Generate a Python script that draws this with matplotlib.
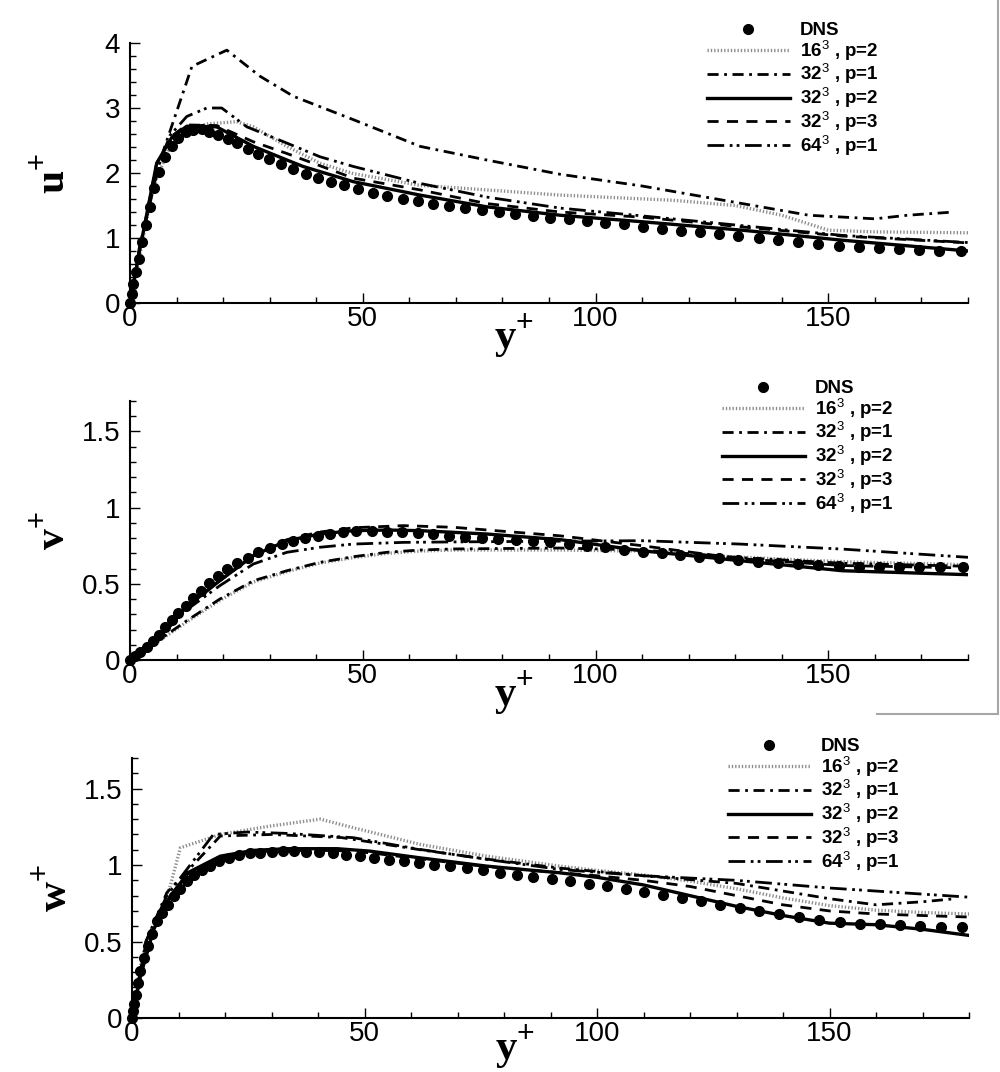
import matplotlib
matplotlib.use("Agg")
import matplotlib.pyplot as plt
from matplotlib.lines import Line2D
from matplotlib.ticker import MultipleLocator, FuncFormatter

plt.rcParams["font.family"] = ["Liberation Sans", "DejaVu Sans"]
plt.rcParams["mathtext.fontset"] = "custom"
plt.rcParams["mathtext.rm"] = "Liberation Sans"
plt.rcParams["mathtext.bf"] = "Liberation Serif:bold"

LABELS = ["DNS", r"16$^{3}$ , p=2", r"32$^{3}$ , p=1", r"32$^{3}$ , p=2",
          r"32$^{3}$ , p=3", r"64$^{3}$ , p=1"]

# ---- u+ panel ----
U_DNS_X = [0, 0.36, 0.72, 1.29, 1.93, 2.51, 3.44, 4.30, 5.23, 6.30, 7.52, 8.95,
           10.39, 12.03, 13.61, 15.40, 17.05, 18.98, 20.99, 23.07, 25.43, 27.58,
           29.94, 32.45, 34.96, 37.75, 40.40, 43.19, 46.06, 49.07, 52.22, 55.30,
           58.6, 61.8, 65.0, 68.6, 72.0, 75.6, 79.2, 82.8, 86.5, 90.3, 94.2,
           98.2, 102.0, 106.1, 110.2, 114.2, 118.3, 122.4, 126.6, 130.7, 135.0,
           139.2, 143.4, 147.7, 152.2, 156.5, 160.8, 165.2, 169.5, 173.8, 178.5]
U_DNS_Y = [0, 0.144, 0.298, 0.478, 0.684, 0.94, 1.197, 1.48, 1.763, 2.02, 2.25,
           2.416, 2.534, 2.627, 2.663, 2.673, 2.637, 2.585, 2.524, 2.457, 2.37,
           2.30, 2.22, 2.14, 2.06, 1.99, 1.93, 1.866, 1.81, 1.753, 1.70, 1.65,
           1.60, 1.57, 1.53, 1.50, 1.46, 1.43, 1.40, 1.37, 1.34, 1.31, 1.29,
           1.264, 1.234, 1.213, 1.172, 1.146, 1.110, 1.085, 1.064, 1.033, 1.002,
           0.966, 0.946, 0.915, 0.884, 0.864, 0.843, 0.828, 0.817, 0.807, 0.802]
U_16P2_X = [0, 2.15, 5.0, 8.6, 12.2, 16.5, 22.9, 26.5, 33.7, 40.8, 48.0, 62.3,
            76.6, 92.4, 116.7, 130, 140, 150, 159.6, 180]
U_16P2_Y = [0, 0.76, 1.79, 2.41, 2.66, 2.755, 2.79, 2.71, 2.41, 2.15, 1.99, 1.81,
            1.74, 1.66, 1.58, 1.50, 1.35, 1.12, 1.095, 1.08]
U_32P1_X = [0, 2.0, 6.5, 13.3, 20.8, 27.9, 35.1, 48.0, 62.3, 76.6, 92.4, 110,
            131.5, 145.8, 160, 167, 177]
U_32P1_Y = [0, 0.85, 2.2, 3.64, 3.89, 3.49, 3.18, 2.82, 2.41, 2.20, 1.98, 1.80,
            1.53, 1.35, 1.295, 1.35, 1.40]
U_32P2_X = [0, 2.0, 5.73, 9.0, 12.2, 18.6, 26.5, 33.7, 37.2, 48.0, 62.3, 76.6,
            92.4, 110, 131.5, 153, 180]
U_32P2_Y = [0, 0.78, 2.15, 2.55, 2.72, 2.71, 2.41, 2.20, 2.10, 1.866, 1.66, 1.48,
            1.35, 1.25, 1.12, 0.966, 0.80]
U_32P3_X = [0, 2.0, 5.73, 9.0, 12.2, 18.6, 26.5, 33.7, 48.0, 62.3, 76.6, 92.4,
            110, 131.5, 153, 180]
U_32P3_Y = [0, 0.78, 2.15, 2.57, 2.74, 2.73, 2.48, 2.30, 1.92, 1.74, 1.53, 1.40,
            1.32, 1.17, 1.03, 0.925]
U_64P1_X = [0, 2.0, 6.0, 8.6, 12.2, 16.5, 19.7, 25.1, 33.7, 40.8, 48.0, 62.3,
            76.6, 92.4, 110, 131.5, 153, 180]
U_64P1_Y = [0, 0.8, 2.1, 2.58, 2.87, 3.0, 3.0, 2.71, 2.46, 2.25, 2.10, 1.84,
            1.63, 1.46, 1.34, 1.19, 1.04, 0.93]

# ---- v+ panel ----
V_DNS_X = [0, 1.07, 2.15, 3.58, 5.01, 6.30, 7.52, 8.95, 10.39, 12.03, 13.61,
           15.19, 17.05, 18.98, 20.92, 23.07, 25.29, 27.58, 30.09, 32.59, 34.96,
           37.61, 40.33, 42.98, 45.70, 48.50, 51.93, 55.16, 58.38, 61.82, 65.19,
           68.55, 71.99, 75.57, 79.15, 82.81, 86.53, 90.26, 94.2, 98.2, 102.1,
           106.2, 110.1, 114.3, 118.2, 122.3, 126.5, 130.7, 134.9, 139.1, 143.4,
           147.7, 152.2, 156.5, 160.8, 165.2, 169.5, 173.9, 178.9]
V_DNS_Y = [0, 0.028, 0.050, 0.083, 0.127, 0.166, 0.214, 0.262, 0.306, 0.357,
           0.407, 0.455, 0.505, 0.549, 0.597, 0.639, 0.669, 0.711, 0.735, 0.762,
           0.783, 0.801, 0.816, 0.827, 0.838, 0.845, 0.845, 0.842, 0.838, 0.834,
           0.827, 0.816, 0.810, 0.801, 0.794, 0.788, 0.779, 0.772, 0.761, 0.750,
           0.739, 0.724, 0.711, 0.700, 0.689, 0.678, 0.667, 0.656, 0.645, 0.637,
           0.630, 0.623, 0.617, 0.613, 0.613, 0.613, 0.610, 0.610, 0.608]
V_16P2_X = [0, 5.0, 12.2, 19.3, 26.5, 33.7, 40.8, 48.0, 55.2, 62.3, 69.5, 92.4,
            110, 131, 153, 180]
V_16P2_Y = [0, 0.100, 0.250, 0.392, 0.512, 0.580, 0.636, 0.672, 0.700, 0.715,
            0.722, 0.722, 0.715, 0.675, 0.645, 0.625]
V_32P1_X = [0, 5.0, 12.2, 19.3, 26.5, 33.7, 40.8, 48.0, 55.2, 62.3, 69.5, 92.4,
            110, 131, 153, 180]
V_32P1_Y = [0, 0.105, 0.258, 0.400, 0.520, 0.586, 0.641, 0.678, 0.707, 0.722,
            0.729, 0.735, 0.722, 0.672, 0.635, 0.615]
V_32P2_X = [0, 5.0, 12.2, 19.3, 26.5, 33.7, 40.8, 48.0, 55.2, 62.3, 69.5, 76.6,
            92.4, 110, 131, 153, 180]
V_32P2_Y = [0, 0.116, 0.350, 0.521, 0.685, 0.783, 0.827, 0.849, 0.853, 0.849,
            0.838, 0.827, 0.790, 0.717, 0.652, 0.586, 0.560]
V_32P3_X = [0, 5.0, 12.2, 19.3, 26.5, 33.7, 40.8, 48.0, 58.7, 69.5, 92.4, 110,
            131, 153, 180]
V_32P3_Y = [0, 0.116, 0.350, 0.521, 0.685, 0.790, 0.840, 0.868, 0.882, 0.871,
            0.815, 0.750, 0.665, 0.620, 0.604]
V_64P1_X = [0, 5.0, 12.2, 19.3, 26.5, 33.7, 40.8, 48.0, 58.7, 69.5, 92.4, 110,
            131, 153, 180]
V_64P1_Y = [0, 0.110, 0.330, 0.488, 0.630, 0.707, 0.740, 0.761, 0.772, 0.775,
            0.780, 0.783, 0.761, 0.728, 0.674]

# ---- w+ panel ----
W_DNS_X = [0, 0.21, 0.49, 0.78, 1.21, 1.78, 2.50, 3.36, 4.29, 5.37, 6.44, 7.73,
           8.95, 10.38, 11.82, 13.39, 15.04, 16.83, 18.76, 20.77, 22.92, 25.29,
           27.58, 30.09, 32.38, 34.74, 37.40, 40.26, 43.13, 45.99, 48.93, 52.08,
           55.24, 58.39, 61.76, 64.98, 68.42, 72.00, 75.59, 79.17, 82.75, 86.34,
           90.27, 94.2, 98.2, 102.1, 106.2, 110.2, 114.3, 118.3, 122.4, 126.5,
           130.7, 134.9, 139.1, 143.4, 147.7, 152.2, 156.5, 160.8, 165.2, 169.5,
           173.9, 178.5]
W_DNS_Y = [0, 0.043, 0.091, 0.153, 0.229, 0.305, 0.393, 0.473, 0.546, 0.633,
           0.687, 0.742, 0.796, 0.844, 0.895, 0.932, 0.967, 0.997, 1.026, 1.047,
           1.063, 1.076, 1.080, 1.087, 1.089, 1.089, 1.087, 1.083, 1.078, 1.069,
           1.058, 1.047, 1.036, 1.026, 1.015, 1.002, 0.991, 0.978, 0.967, 0.949,
           0.936, 0.921, 0.906, 0.893, 0.878, 0.862, 0.843, 0.823, 0.803, 0.782,
           0.762, 0.742, 0.722, 0.702, 0.682, 0.662, 0.642, 0.627, 0.617, 0.612,
           0.607, 0.602, 0.597, 0.592]
W_16P2_X = [0, 1.78, 4.65, 8.2, 10.4, 19.0, 29.7, 40.5, 47.6, 62.0, 76.3, 92.1,
            100, 110, 120, 130, 140, 150, 160, 170, 180]
W_16P2_Y = [0, 0.338, 0.578, 0.86, 1.113, 1.20, 1.255, 1.30, 1.244, 1.135, 1.058,
            0.993, 0.965, 0.935, 0.895, 0.845, 0.785, 0.735, 0.705, 0.69, 0.68]
W_32P1_X = [0, 3.0, 7.5, 12.5, 19.0, 30, 45, 62, 76, 92, 110, 130, 150, 160, 170,
            177]
W_32P1_Y = [0, 0.5, 0.82, 0.98, 1.19, 1.20, 1.18, 1.10, 1.04, 0.98, 0.93, 0.88,
            0.78, 0.74, 0.76, 0.78]
W_32P2_X = [0, 1.78, 4.65, 8.23, 12.2, 18.98, 26.1, 33.3, 44.1, 51.2, 62.0, 76.3,
            92.1, 100, 110, 120, 130, 140, 150, 160, 170, 180]
W_32P2_Y = [0, 0.27, 0.578, 0.797, 0.953, 1.058, 1.096, 1.107, 1.107, 1.091,
            1.047, 0.993, 0.949, 0.92, 0.87, 0.80, 0.73, 0.67, 0.62, 0.61, 0.58,
            0.54]
W_32P3_X = [0, 1.78, 4.65, 8.23, 12.2, 18.98, 26.1, 33.3, 44.1, 51.2, 62.0, 76.3,
            92.1, 100, 110, 120, 130, 140, 150, 160, 170, 180]
W_32P3_Y = [0, 0.27, 0.578, 0.797, 0.950, 1.050, 1.085, 1.095, 1.095, 1.080,
            1.040, 0.99, 0.95, 0.93, 0.90, 0.86, 0.80, 0.74, 0.70, 0.68, 0.67,
            0.66]
W_64P1_X = [0, 3.0, 7.5, 12.0, 17.5, 24.7, 33.3, 47.6, 62.0, 76.3, 92.1, 110,
            130, 150, 160, 170, 180]
W_64P1_Y = [0, 0.5, 0.80, 0.98, 1.20, 1.216, 1.207, 1.179, 1.102, 1.037, 0.971,
            0.93, 0.90, 0.85, 0.83, 0.81, 0.79]

PANELS = [
    dict(label=r"$\mathbf{u}^{+}$", ymax=4, major=1, minor=0.2,
         dns=(U_DNS_X, U_DNS_Y),
         curves=[(U_16P2_X, U_16P2_Y), (U_32P1_X, U_32P1_Y), (U_32P2_X, U_32P2_Y),
                 (U_32P3_X, U_32P3_Y), (U_64P1_X, U_64P1_Y)]),
    dict(label=r"$\mathbf{v}^{+}$", ymax=1.7, major=0.5, minor=0.1,
         dns=(V_DNS_X, V_DNS_Y),
         curves=[(V_16P2_X, V_16P2_Y), (V_32P1_X, V_32P1_Y), (V_32P2_X, V_32P2_Y),
                 (V_32P3_X, V_32P3_Y), (V_64P1_X, V_64P1_Y)]),
    dict(label=r"$\mathbf{w}^{+}$", ymax=1.7, major=0.5, minor=0.1,
         dns=(W_DNS_X, W_DNS_Y),
         curves=[(W_16P2_X, W_16P2_Y), (W_32P1_X, W_32P1_Y), (W_32P2_X, W_32P2_Y),
                 (W_32P3_X, W_32P3_Y), (W_64P1_X, W_64P1_Y)]),
]

STYLES = [
    dict(color="0.55", lw=2.4, ls=(0, (0.4, 0.6))),
    dict(color="black", lw=2.0, ls=(0, (4, 2, 1, 2))),
    dict(color="black", lw=2.4, ls="-"),
    dict(color="black", lw=2.0, ls=(0, (4, 3))),
    dict(color="black", lw=2.0, ls=(0, (6, 2, 1, 1.5, 1, 2))),
]

# axes rects in pixel terms (left, bottom-from-top, right, top-from-top)
W, H = 1000, 1072
RECTS = [(130, 303, 968, 43), (130, 660, 968, 401), (132, 1018, 969, 758)]
LEG_ANCHORS = [(707, 22), (722, 380), (728, 738)]
XLABEL_Y = [-0.035, -0.035, -0.022]

fig = plt.figure(figsize=(W / 100, H / 100), dpi=100)

for p, rect, anc, xly in zip(PANELS, RECTS, LEG_ANCHORS, XLABEL_Y):
    l, b, r, t = rect
    ax = fig.add_axes([l / W, 1 - b / H, (r - l) / W, (b - t) / H])

    ax.plot(*p["dns"], "o", color="black", ms=7, clip_on=False, zorder=5)
    for (cx, cy), st in zip(p["curves"], STYLES):
        ax.plot(cx, cy, color=st["color"], lw=st["lw"], ls=st["ls"])

    ax.set_xlim(0, 180)
    ax.set_ylim(0, p["ymax"])
    for s in ("top", "right"):
        ax.spines[s].set_visible(False)
    for s in ("left", "bottom"):
        ax.spines[s].set_linewidth(1.5)
    ax.xaxis.set_major_locator(MultipleLocator(50))
    ax.xaxis.set_minor_locator(MultipleLocator(10))
    ax.yaxis.set_major_locator(MultipleLocator(p["major"]))
    ax.yaxis.set_minor_locator(MultipleLocator(p["minor"]))
    ax.yaxis.set_major_formatter(FuncFormatter(lambda v, _: f"{v:g}"))
    ax.tick_params(which="both", direction="in", labelsize=20, width=1)
    ax.tick_params(which="major", length=7)
    ax.tick_params(which="minor", length=4)
    ax.tick_params(axis="y", pad=7)
    ax.tick_params(axis="x", pad=2)

    ax.set_ylabel(p["label"], fontsize=30, rotation=90)
    ax.yaxis.set_label_coords(-0.068, 0.5)
    ax.set_xlabel(r"$\mathbf{y}^{+}$", fontsize=31, va="top")
    ax.xaxis.set_label_coords(0.458, xly)

    handles = [Line2D([], [], marker="o", ls="none", color="black", ms=7)]
    handles += [Line2D([], [], color=st["color"], lw=st["lw"], ls=st["ls"])
                for st in STYLES]
    leg = ax.legend(handles, LABELS, loc="upper left",
                    bbox_to_anchor=(anc[0] / W, 1 - anc[1] / H),
                    bbox_transform=fig.transFigure, frameon=False,
                    borderpad=0, borderaxespad=0, handlelength=4.4,
                    handletextpad=0.55, labelspacing=-0.06, numpoints=1,
                    prop=dict(size=13.5, weight="bold"))

# light grey frame fragment at the right edge
fig.add_artist(Line2D([0.9975, 0.9975], [1.0, 1 - 714 / H], color="0.65",
                      lw=1.5, transform=fig.transFigure))
fig.add_artist(Line2D([877 / W, 0.9975], [1 - 714 / H, 1 - 714 / H],
                      color="0.65", lw=1.5, transform=fig.transFigure))

fig.savefig("out.png", dpi=100)
